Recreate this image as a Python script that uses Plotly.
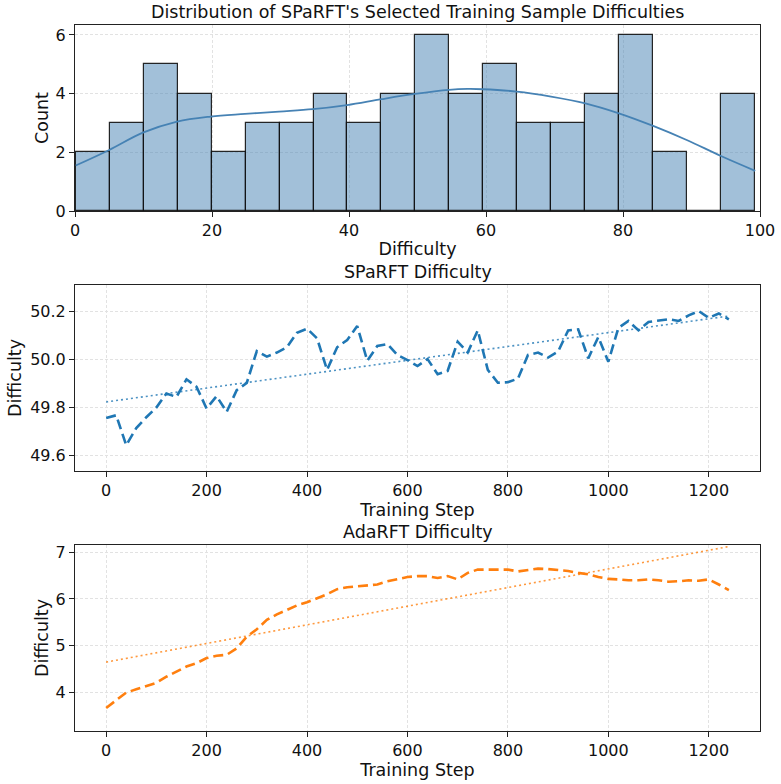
import numpy as np
import plotly.graph_objects as go

# ---------------- data ----------------
hist_counts = [2, 3, 5, 4, 2, 3, 3, 4, 3, 4, 6, 4, 5, 3, 3, 4, 6, 2, 0, 4]
bin_start = 0.1
bin_end = 99.3

kde_x = [0.1, 5, 9.9, 14.9, 19.8, 24.8, 29.8, 34.7, 39.7, 44.7, 49.6, 54.6,
         57.3, 59.5, 64.5, 69.5, 74.5, 79.4, 84.4, 89.3, 94.3, 99.3]
kde_y = [1.55, 2.08, 2.67, 3.05, 3.22, 3.31, 3.39, 3.47, 3.61, 3.81, 3.99, 4.13,
         4.16, 4.15, 4.07, 3.90, 3.67, 3.33, 2.90, 2.42, 1.875, 1.37]

steps = list(range(0, 1241, 20))
sparft = [49.757, 49.768, 49.644, 49.715, 49.76, 49.80, 49.858, 49.844, 49.917, 49.886,
          49.796, 49.847, 49.782, 49.872, 49.902, 50.034, 50.011, 50.028, 50.05, 50.11,
          50.127, 50.087, 49.956, 50.05, 50.08, 50.138, 49.994, 50.055, 50.063, 50.018,
          49.997, 49.972, 50.001, 49.938, 49.952, 50.073, 50.028, 50.12, 49.956, 49.903,
          49.905, 49.92, 50.018, 50.028, 50.007, 50.032, 50.12, 50.124, 50.004, 50.092,
          49.99, 50.13, 50.159, 50.12, 50.155, 50.161, 50.166, 50.159, 50.182, 50.2,
          50.172, 50.19, 50.166]
adarft = [3.66, 3.83, 3.99, 4.06, 4.13, 4.20, 4.33, 4.44, 4.55, 4.62,
          4.73, 4.78, 4.80, 4.94, 5.19, 5.35, 5.55, 5.67, 5.77, 5.86,
          5.93, 6.01, 6.10, 6.21, 6.25, 6.27, 6.29, 6.31, 6.38, 6.42,
          6.47, 6.49, 6.49, 6.45, 6.49, 6.42, 6.56, 6.63, 6.63, 6.63,
          6.63, 6.59, 6.62, 6.65, 6.64, 6.62, 6.60, 6.56, 6.53, 6.47,
          6.43, 6.42, 6.40, 6.40, 6.42, 6.40, 6.37, 6.38, 6.40, 6.39,
          6.42, 6.31, 6.19]

# ---------------- derived ----------------
n_bins = len(hist_counts)
bw = (bin_end - bin_start) / n_bins
centers = [bin_start + bw * (i + 0.5) for i in range(n_bins)]

xs = np.array(steps, dtype=float)
p1 = np.polyfit(xs, np.array(sparft), 1)
p2 = np.polyfit(xs, np.array(adarft), 1)
trend1 = np.polyval(p1, xs)
trend2 = np.polyval(p2, xs)

FONT = "DejaVu Sans"
W, H = 781, 784
ML, MR, MT, MB = 75, 21, 25, 53
ph = H - MT - MB
pw = W - ML - MR


def ydom(top_px, bot_px):
    return [(H - MB - bot_px) / ph, (H - MB - top_px) / ph]


fig = go.Figure()

fig.add_trace(go.Bar(x=centers, y=hist_counts, width=bw,
                     marker=dict(color="rgba(70,130,180,0.5)",
                                 line=dict(color="rgba(15,15,15,0.9)", width=1.2)),
                     xaxis="x", yaxis="y", showlegend=False))
fig.add_trace(go.Scatter(x=kde_x, y=kde_y, mode="lines", line=dict(color="#4682b4", width=1.8, shape="spline"),
                         xaxis="x", yaxis="y", showlegend=False))

fig.add_trace(go.Scatter(x=steps, y=trend1, mode="lines",
                         line=dict(color="rgba(31,119,180,0.8)", width=1.6, dash="2px,3px"),
                         xaxis="x2", yaxis="y2", showlegend=False))
fig.add_trace(go.Scatter(x=steps, y=sparft, mode="lines",
                         line=dict(color="#1f77b4", width=2.6, dash="10px,5px"),
                         xaxis="x2", yaxis="y2", showlegend=False))

fig.add_trace(go.Scatter(x=steps, y=trend2, mode="lines",
                         line=dict(color="rgba(255,127,14,0.8)", width=1.6, dash="2px,3px"),
                         xaxis="x3", yaxis="y3", showlegend=False))
fig.add_trace(go.Scatter(x=steps, y=adarft, mode="lines",
                         line=dict(color="#ff7f0e", width=2.6, dash="10px,5px"),
                         xaxis="x3", yaxis="y3", showlegend=False))

axis_common = dict(showline=True, linecolor="#222", linewidth=1.1, mirror=True,
                   ticks="outside", ticklen=5, tickcolor="#222", tickwidth=1,
                   showgrid=True, gridcolor="#e2e2e2", griddash="3px,2px", gridwidth=0.8,
                   zeroline=False, tickfont=dict(family=FONT, size=16, color="#111"),
                   automargin=False)
title_font = dict(family=FONT, size=17.5, color="#111")

fig.update_layout(
    width=W, height=H,
    margin=dict(l=ML, r=MR, t=MT, b=MB),
    plot_bgcolor="white", paper_bgcolor="white",
    bargap=0,
    xaxis=dict(**axis_common, domain=[0, 1], range=[0, 100], tickvals=[0, 20, 40, 60, 80, 100],
               title=dict(text="Difficulty", font=title_font, standoff=3), anchor="y"),
    yaxis=dict(**axis_common, domain=ydom(25, 211), range=[0, 6.34], tickvals=[0, 2, 4, 6], anchor="x"),
    xaxis2=dict(**axis_common, domain=[0, 1], range=[-62, 1302], tickvals=[0, 200, 400, 600, 800, 1000, 1200],
                title=dict(text="Training Step", font=title_font, standoff=3), anchor="y2"),
    yaxis2=dict(**axis_common, domain=ydom(285, 471), range=[49.537, 50.308],
                tickvals=[49.6, 49.8, 50.0, 50.2], tickformat=".1f", anchor="x2"),
    xaxis3=dict(**axis_common, domain=[0, 1], range=[-62, 1302], tickvals=[0, 200, 400, 600, 800, 1000, 1200],
                title=dict(text="Training Step", font=title_font, standoff=3), anchor="y3"),
    yaxis3=dict(**axis_common, domain=ydom(545, 731), range=[3.165, 7.158], tickvals=[4, 5, 6, 7], anchor="x3"),
)

titles = [("Distribution of SPaRFT's Selected Training Sample Difficulties", 25),
          ("SPaRFT Difficulty", 285),
          ("AdaRFT Difficulty", 545)]
for txt, top_px in titles:
    fig.add_annotation(text=txt, xref="paper", yref="paper", x=0.5,
                       y=(H - MB - top_px) / ph, yanchor="bottom", yshift=1,
                       showarrow=False, font=title_font)

# y-axis titles (centre x position in px, vertical extent of panel)
ytitles = [("Count", 42, 25, 211), ("Difficulty", 15, 285, 471), ("Difficulty", 42, 545, 731)]
for txt, xc, top_px, bot_px in ytitles:
    fig.add_annotation(text=txt, xref="paper", yref="paper",
                       x=(xc - ML) / pw, y=(H - MB - (top_px + bot_px) / 2) / ph,
                       xanchor="center", yanchor="middle", textangle=-90,
                       showarrow=False, font=title_font)

fig.write_html("out.html")
